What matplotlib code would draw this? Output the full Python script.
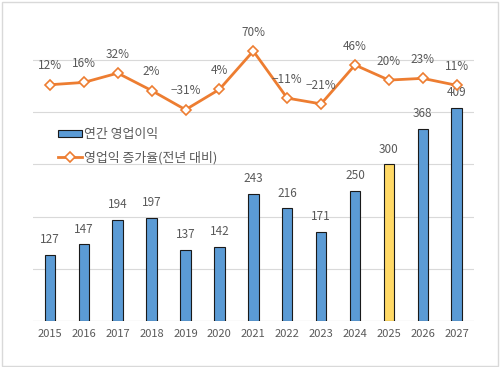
import matplotlib
matplotlib.use("Agg")
import matplotlib.pyplot as plt
from matplotlib.patches import Rectangle, Patch
from matplotlib.lines import Line2D

plt.rcParams['font.family'] = ['Noto Sans CJK KR', 'DejaVu Sans']

years = ['2015', '2016', '2017', '2018', '2019', '2020', '2021', '2022', '2023', '2024', '2025', '2026', '2027']
profit = [127, 147, 194, 197, 137, 142, 243, 216, 171, 250, 300, 368, 409]
growth = [12, 16, 32, 2, -31, 4, 70, -11, -21, 46, 20, 23, 11]
highlight_year = '2025'
bar_label = '연간 영업이익'
line_label = '영업익 증가율(전년 대비)'

W, H = 500, 367
fig = plt.figure(figsize=(W / 100, H / 100), dpi=100)
left, right, top, bottom = 33, 473.6, 8, 321
ax = fig.add_axes([left / W, 1 - bottom / H, (right - left) / W, (bottom - top) / H])
ax2 = ax.twinx()

gray = '#595959'
blue = '#5B9BD5'
yellow = '#FFD966'
orange = '#ED7D31'
grid_c = '#D9D9D9'

x = list(range(len(years)))
colors = [yellow if y == highlight_year else blue for y in years]
ax.bar(x, profit, width=0.31, color=colors, edgecolor='#1a1a1a', linewidth=0.8, zorder=3)
ax.set_ylim(0, 600)
ax.set_xlim(-0.5, len(years) - 0.5)
for g in [100, 200, 300, 400, 500]:
    ax.axhline(g, color=grid_c, lw=0.8, zorder=1)
ax.axhline(0, color=grid_c, lw=0.9, zorder=1)
for s in ax.spines.values():
    s.set_visible(False)
for s in ax2.spines.values():
    s.set_visible(False)
ax.set_yticks([])
ax2.set_yticks([])
ax.set_xticks(x)
ax.set_xticklabels(years, fontsize=8, color=gray)
ax.tick_params(axis='x', length=0, pad=6)

for xi, v in zip(x, profit):
    ax.annotate(str(v), (xi, v), xytext=(0, 11), textcoords='offset points',
                ha='center', va='center', fontsize=8.5, color=gray, zorder=5)

ax2.set_ylim(-394.7, 144.1)
ax2.plot(x, growth, color=orange, lw=2, marker='D', markersize=5.5,
         markerfacecolor='white', markeredgecolor=orange, markeredgewidth=1.2, zorder=4)
for xi, v in zip(x, growth):
    txt = f'{v}%' if v >= 0 else f'\u2212{abs(v)}%'
    ax2.annotate(txt, (xi, v), xytext=(0, 13.5), textcoords='offset points',
                 ha='center', va='center', fontsize=8.5, color=gray, zorder=5)

handles = [Patch(facecolor=blue, edgecolor='#1a1a1a', linewidth=0.8),
           Line2D([0], [0], color=orange, lw=2, marker='D', markersize=5.5,
                  markerfacecolor='white', markeredgecolor=orange, markeredgewidth=1.2)]
leg = fig.legend(handles, [bar_label, line_label], loc='upper left',
                 bbox_to_anchor=(58 / W, 1 - 128 / H), frameon=False,
                 fontsize=9.3, labelcolor=gray, handlelength=1.85, handleheight=0.55,
                 handletextpad=0.15, labelspacing=0.75, borderpad=0, borderaxespad=0)

fig.patches.append(Rectangle((1.5 / W, 1.5 / H), (W - 3.5) / W, (H - 3.5) / H,
                             transform=fig.transFigure, fill=False,
                             edgecolor='#D9D9D9', lw=1))

fig.savefig('out.png', dpi=100)
